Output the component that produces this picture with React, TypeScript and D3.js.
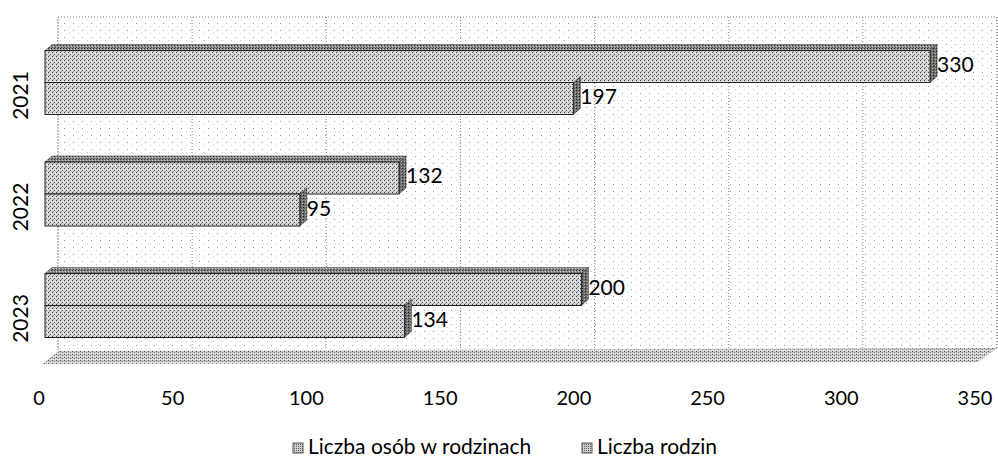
import React from "react";
import * as d3 from "d3";

const years = ["2021", "2022", "2023"];
const seriesNames = ["Liczba osób w rodzinach", "Liczba rodzin"];
const persons = [330, 132, 200];
const families = [197, 95, 134];
const ticks = [0, 50, 100, 150, 200, 250, 300, 350];

const W = 998;
const H = 462;
const FONT = "Lato, 'Open Sans', sans-serif";
const DX = 7;
const DY = -6;

export default function App() {
  const xFront = d3.scaleLinear().domain([0, 350]).range([45, 983.7]);
  const xWall = d3.scaleLinear().domain([0, 350]).range([58, 997]);
  const xTick = d3.scaleLinear().domain([0, 350]).range([39, 975]);
  const yCat = d3.scaleBand<string>().domain(years).range([50.5, 337.5]).paddingInner(0.426).paddingOuter(0);
  const ySer = d3.scaleBand<string>().domain(seriesNames).range([0, yCat.bandwidth()]);

  const wallTop = 17;
  const wallBottom = 350;

  const rows = years.flatMap((yr, i) => [
    { yr, s: seriesNames[0], v: persons[i] },
    { yr, s: seriesNames[1], v: families[i] },
  ]);

  return (
    <svg width={W} height={H} style={{ display: "block", position: "absolute", left: 0, top: 0 }}>
      <defs>
        <pattern id="pWall" width="9" height="7" patternUnits="userSpaceOnUse">
          <rect width="9" height="7" fill="#ffffff" />
          <rect x="1" y="2" width="1" height="1" fill="#9a9a9a" />
          <rect x="6" y="5" width="1" height="1" fill="#cccccc" />
        </pattern>
        <pattern id="pFront" width="4" height="4" patternUnits="userSpaceOnUse">
          <rect width="4" height="4" fill="#d6d6d6" />
          <rect x="0" y="0" width="1" height="1" fill="#3a3a3a" />
          <rect x="2" y="2" width="1" height="1" fill="#555555" />
          <rect x="3" y="1" width="1" height="1" fill="#f4f4f4" />
          <rect x="1" y="3" width="1" height="1" fill="#8a8a8a" />
        </pattern>
        <pattern id="pTop" width="3" height="3" patternUnits="userSpaceOnUse">
          <rect width="3" height="3" fill="#8c8c8c" />
          <rect x="0" y="0" width="1" height="1" fill="#2a2a2a" />
          <rect x="2" y="1" width="1" height="1" fill="#cfcfcf" />
          <rect x="1" y="2" width="1" height="1" fill="#4a4a4a" />
        </pattern>
        <pattern id="pSide" width="3" height="3" patternUnits="userSpaceOnUse">
          <rect width="3" height="3" fill="#6e6e6e" />
          <rect x="0" y="0" width="1" height="1" fill="#1e1e1e" />
          <rect x="2" y="2" width="1" height="1" fill="#b0b0b0" />
        </pattern>
        <pattern id="pFloor" width="4" height="3" patternUnits="userSpaceOnUse">
          <rect width="4" height="3" fill="#cacaca" />
          <rect x="0" y="0" width="1" height="1" fill="#505050" />
          <rect x="2" y="1" width="1" height="1" fill="#707070" />
          <rect x="3" y="2" width="1" height="1" fill="#f4f4f4" />
          <rect x="1" y="2" width="1" height="1" fill="#f0f0f0" />
        </pattern>
        <pattern id="pIcon" width="2" height="2" patternUnits="userSpaceOnUse">
          <rect width="2" height="2" fill="#d0d0d0" />
          <rect x="0" y="0" width="1" height="1" fill="#555" />
        </pattern>
      </defs>

      {/* back wall */}
      <rect x={xWall(0)} y={wallTop} width={xWall(350) - xWall(0)} height={wallBottom - wallTop} fill="url(#pWall)" />
      <path
        d={`M${xWall(0)},${wallBottom}V${wallTop}H${xWall(350)}V${wallBottom - 2}`}
        fill="none"
        stroke="#777"
        strokeWidth={1}
        strokeDasharray="1 2"
      />
      {ticks.map((t) => (
        <line key={t} x1={xWall(t)} x2={xWall(t)} y1={wallTop} y2={wallBottom} stroke="#888" strokeWidth={1} strokeDasharray="1 2" />
      ))}

      {/* floor */}
      <polygon
        points={`${xFront(0) - 2},364 ${xFront(350) - 6},362 ${xWall(350)},348 ${xWall(0)},351`}
        fill="url(#pFloor)"
      />

      {/* bars */}
      {rows.map((r) => {
        const y0 = (yCat(r.yr) as number) + (ySer(r.s) as number);
        const h = ySer.bandwidth();
        const x0 = xFront(0);
        const x1 = xFront(r.v);
        const isTop = r.s === seriesNames[0];
        return (
          <g key={r.yr + r.s}>
            {isTop && (
              <polygon
                points={`${x0},${y0} ${x0 + DX},${y0 + DY} ${x1 + DX},${y0 + DY} ${x1},${y0}`}
                fill="url(#pTop)"
                stroke="#555"
                strokeWidth={0.6}
              />
            )}
            <polygon
              points={`${x1},${y0} ${x1 + DX},${y0 + DY} ${x1 + DX},${y0 + h + DY} ${x1},${y0 + h}`}
              fill="url(#pSide)"
              stroke="#444"
              strokeWidth={0.6}
            />
            <rect x={x0} y={y0} width={x1 - x0} height={h} fill="url(#pFront)" stroke="#222" strokeWidth={1} />
          </g>
        );
      })}

      {/* data labels */}
      {rows.map((r) => {
        const y0 = (yCat(r.yr) as number) + (ySer(r.s) as number);
        return (
          <text
            key={"l" + r.yr + r.s}
            x={xFront(r.v) + DX}
            y={y0 + ySer.bandwidth() / 2 - 3}
            dominantBaseline="central"
            fontFamily={FONT}
            fontSize={21}
            fill="#000"
          >
            {r.v}
          </text>
        );
      })}

      {/* category labels */}
      {years.map((yr) => {
        const cy = (yCat(yr) as number) + yCat.bandwidth() / 2 + 13;
        return (
          <text
            key={yr}
            transform={`translate(28,${cy}) rotate(-90)`}
            textAnchor="middle"
            fontFamily={FONT}
            fontSize={21}
            fill="#000"
          >
            {yr}
          </text>
        );
      })}

      {/* x tick labels */}
      {ticks.map((t) => (
        <text key={"t" + t} x={xTick(t)} y={405} textAnchor="middle" fontFamily={FONT} fontSize={20} fill="#000">
          {t}
        </text>
      ))}

      {/* legend */}
      {seriesNames.map((s, i) => {
        const lx = i === 0 ? 293 : 582;
        return (
          <g key={"lg" + s}>
            <rect x={lx} y={443} width={10} height={10} fill="url(#pIcon)" stroke="#555" strokeWidth={1} />
            <text x={lx + 15} y={454} fontFamily={FONT} fontSize={21} fill="#000">
              {s}
            </text>
          </g>
        );
      })}
    </svg>
  );
}
